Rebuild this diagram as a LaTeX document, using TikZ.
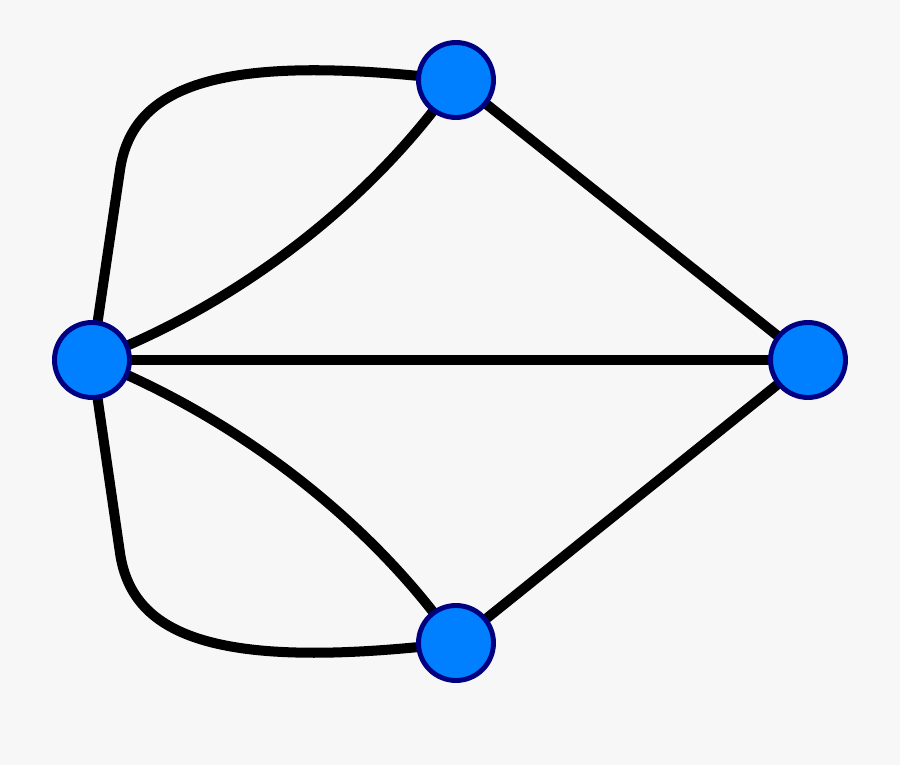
\documentclass[tikz,border=0pt]{standalone}
\usetikzlibrary{backgrounds}

\definecolor{bridgebg}{HTML}{F7F7F7}
\definecolor{landfill}{HTML}{0080FF}
\definecolor{landedge}{HTML}{000080}

\tikzset{
	land/.style = {circle, draw = landedge, fill = landfill, line width = 2.8pt, inner sep = 0pt, minimum size = 1.5cm},
	bridge/.style = {draw, black, line width = 5.7pt}
}

\begin{document}
\begin{tikzpicture}
		\useasboundingbox (0,0) rectangle (18,15.3);
		
		\node[land] (L) at (1.84,8.1) {};
		\node[land] (T) at (9.12,13.7) {};
		\node[land] (R) at (16.16,8.1) {};
		\node[land] (B) at (9.12,2.44) {};
		
		\coordinate (TA) at (2.4,11.9);
		\coordinate (BA) at (2.4,4.24);
		
		\begin{scope}[on background layer]
		\fill[bridgebg] (0,0) rectangle (18,15.3);
		
		\path[bridge] (L.center) -- (TA) .. controls (2.65,13.6) and (4.4,14.26) .. (T.center);
		\path[bridge] (L.center) -- (BA) .. controls (2.65,2.54) and (4.4,1.88) .. (B.center);
		\path[bridge] (L.center) .. controls (5.0,9.3) and (7.6,11.5) .. (T.center);
		\path[bridge] (L.center) .. controls (5.0,6.84) and (7.6,4.64) .. (B.center);
		\path[bridge] (L.center) -- (R.center);
		\path[bridge] (T.center) -- (R.center);
		\path[bridge] (B.center) -- (R.center);
		\end{scope}
	\end{tikzpicture}
\end{document}
